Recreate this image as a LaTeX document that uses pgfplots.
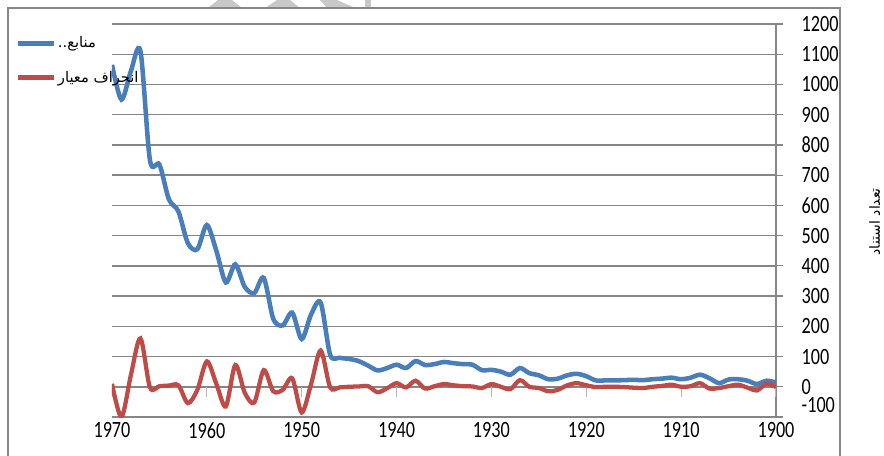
\documentclass[border=0pt]{standalone}
\usepackage{fontspec}
\usepackage{graphicx}
\usepackage{pgfplots}
\pgfplotsset{compat=1.18}
\usepackage{pgfplotstable}
\setmainfont{Carlito}
\newfontfamily\arabicfont[Script=Arabic]{DejaVu Sans}
\TeXXeTstate=1
\definecolor{cblue}{HTML}{4A7EBB}
\definecolor{cred}{HTML}{BE4B48}
\definecolor{cgrid}{HTML}{868686}
\definecolor{wm}{HTML}{C8C8C8}

\pgfplotstableread{
year val
1970 1065
1969 950
1968 1045
1967 1110
1966 750
1965 735
1964 620
1963 580
1962 475
1961 455
1960 535
1959 450
1958 345
1957 405
1956 330
1955 310
1954 360
1953 225
1952 203
1951 245
1950 158
1949 240
1948 278
1947 106
1946 96
1945 92
1944 85
1943 70
1942 54
1941 62
1940 73
1939 62
1938 85
1937 72
1936 75
1935 82
1934 78
1933 75
1932 73
1931 55
1930 56
1929 50
1928 40
1927 62
1926 45
1925 38
1924 25
1923 27
1922 38
1921 43
1920 35
1919 21
1918 21
1917 21
1916 22
1915 23
1914 22
1913 25
1912 27
1911 30
1910 25
1909 30
1908 40
1907 28
1906 12
1905 24
1904 25
1903 20
1902 9
1901 20
1900 14
}\bluedata

\pgfplotstableread{
year val
1970 10
1969 -100
1968 40
1967 160
1966 -2
1965 2
1964 4
1963 5
1962 -54
1961 -10
1960 84
1959 10
1958 -65
1957 72
1956 -20
1955 -52
1954 55
1953 -15
1952 -10
1951 28
1950 -85
1949 10
1948 120
1947 -2
1946 -2
1945 0
1944 1
1943 2
1942 -18
1941 -5
1940 12
1939 -2
1938 20
1937 -6
1936 2
1935 9
1934 5
1933 2
1932 1
1931 -4
1930 9
1929 0
1928 -8
1927 22
1926 0
1925 -4
1924 -15
1923 -10
1922 5
1921 12
1920 5
1919 -1
1918 0
1917 0
1916 -1
1915 -3
1914 -4
1913 0
1912 3
1911 7
1910 0
1909 2
1908 12
1907 -6
1906 -4
1905 2
1904 7
1903 -3
1902 -12
1901 10
1900 -1
}\reddata

\begin{document}
\begin{tikzpicture}
\path[use as bounding box] (0,0) rectangle (663pt,341.25pt);
% faint watermark remnants at the top
\fill[wm] (156pt,335.25pt) -- (163.5pt,341.25pt) -- (174pt,341.25pt) -- (181.5pt,335.25pt) -- cycle;
\fill[wm] (198.75pt,335.25pt) -- (207.75pt,341.25pt) -- (217.5pt,341.25pt) -- (225pt,335.25pt) -- cycle;
\fill[wm] (245.25pt,335.25pt) -- (240pt,341.25pt) -- (252.75pt,341.25pt) -- (266.25pt,335.25pt) -- cycle;
\fill[wm] (273.75pt,335.25pt) rectangle (278.25pt,341.25pt);
% chart frame
\draw[cgrid, line width=0.9pt] (6pt,-5pt) -- (6pt,335.25pt) -- (630pt,335.25pt) -- (630pt,-5pt);
\begin{axis}[
  at={(84pt,28.5pt)}, anchor=south west,
  scale only axis, width=498pt, height=294.75pt,
  xmin=1900, xmax=1970, ymin=-100, ymax=1200,
  x dir=reverse,
  axis x line*=bottom, axis y line*=right,
  axis line style={cgrid, line width=1.1pt, -},
  ytick={0,100,...,1200},
  extra y ticks={-100},
  extra y tick style={yticklabel style={yshift=9pt}},
  xtick={1900,1910,...,1970},
  ymajorgrids,
  major grid style={cgrid, line width=1.1pt},
  tick align=outside,
  y tick style={cgrid, line width=0.9pt},
  major tick length=5.25pt,
  x tick style={draw=none},
  tick label style={font=\fontsize{17.5}{19}\selectfont, text=black},
  /pgf/number format/assume math mode=true,
  /pgf/number format/1000 sep={},
  xticklabel={\scalebox{0.78}[1]{\pgfmathprintnumber{\tick}}},
  yticklabel={\scalebox{0.78}[1]{\pgfmathprintnumber{\tick}}},
  yticklabel style={anchor=west, xshift=10.5pt},
  xticklabel style={yshift=4.5pt},
  clip=true,
  legend style={draw=none, fill=none, at={(-0.145,0.972)}, anchor=north west,
    font=\fontsize{11}{13}\selectfont, row sep=14pt, inner sep=0pt,
    nodes={inner sep=1pt}},
  legend cell align=left,
  legend image code/.code={\draw[#1, line width=3.5pt] (0pt,0pt) -- (27pt,0pt);},
]
\pgfplotsinvokeforeach{1900,1910,...,1970}{
  \draw[cgrid!60, line width=0.9pt] (axis cs:#1,0) -- (axis cs:#1,-33);
}
\addplot[cblue, line width=3.4pt, smooth, tension=0.5] table[x=year, y=val] {\bluedata};
\addlegendentry{\arabicfont\beginR منابع..\endR}
\addplot[cred, line width=3.2pt, smooth, tension=0.5] table[x=year, y=val] {\reddata};
\addlegendentry{\arabicfont\beginR انحراف معیار\endR}
\end{axis}
\node[rotate=90, font=\fontsize{10.5}{12}\arabicfont] at (656pt,175pt) {\beginR تعداد استناد\endR};
\end{tikzpicture}
\end{document}
